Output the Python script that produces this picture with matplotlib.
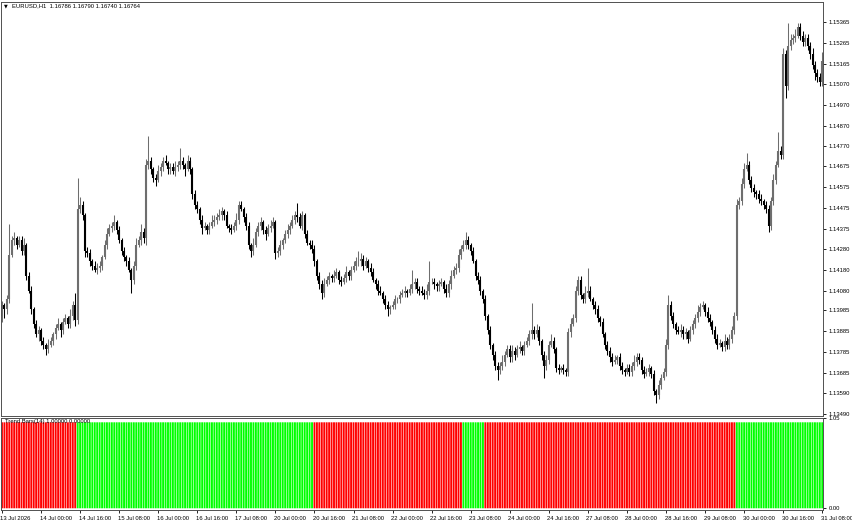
import numpy as np
import matplotlib
matplotlib.use('Agg')
from matplotlib import pyplot as plt
from matplotlib import transforms

# hourly closes, EURUSD H1, 13 Jul 08:00 .. 31 Jul 08:00
closes = [
    1.1401, 1.1399, 1.1404, 1.1425, 1.1432, 1.1433, 1.1430, 1.1432, 1.1427, 1.1430,
    1.1415, 1.1408, 1.1399, 1.1392, 1.1387, 1.1389, 1.1384, 1.1382, 1.1380, 1.1382,
    1.1384, 1.1387, 1.1390, 1.1392, 1.1389, 1.1393, 1.1395, 1.1392, 1.1396, 1.1401,
    1.1394, 1.1447, 1.1449, 1.1444, 1.1427, 1.1426, 1.1422, 1.1420, 1.1418, 1.1419,
    1.1420, 1.1424, 1.1430, 1.1435, 1.1438, 1.1439, 1.1441, 1.1437, 1.1432, 1.1427,
    1.1424, 1.1422, 1.1418, 1.1413, 1.1420, 1.1430, 1.1432, 1.1436, 1.1433, 1.1468,
    1.1470, 1.1466, 1.1462, 1.1461, 1.1465, 1.1467, 1.1470, 1.1469, 1.1466, 1.1467,
    1.1465, 1.1467, 1.1468, 1.1470, 1.1468, 1.1466, 1.1470, 1.1466, 1.1454, 1.1449,
    1.1447, 1.1442, 1.1438, 1.1439, 1.1437, 1.1439, 1.1441, 1.1442, 1.1443, 1.1444,
    1.1446, 1.1444, 1.1439, 1.1438, 1.1437, 1.1439, 1.1442, 1.1449, 1.1447, 1.1443,
    1.1439, 1.1430, 1.1427, 1.1430, 1.1436, 1.1439, 1.1441, 1.1437, 1.1435, 1.1438,
    1.1439, 1.1441, 1.1426, 1.1427, 1.1430, 1.1432, 1.1435, 1.1437, 1.1439, 1.1442,
    1.1444, 1.1443, 1.1439, 1.1444, 1.1435, 1.1431, 1.1430, 1.1428, 1.1422, 1.1415,
    1.1411, 1.1407, 1.1411, 1.1413, 1.1415, 1.1414, 1.1415, 1.1417, 1.1413, 1.1412,
    1.1414, 1.1417, 1.1415, 1.1418, 1.1420, 1.1422, 1.1422, 1.1423, 1.1420, 1.1422,
    1.1419, 1.1417, 1.1413, 1.1411, 1.1408, 1.1407, 1.1404, 1.1401, 1.1399, 1.1400,
    1.1401, 1.1404, 1.1404, 1.1406, 1.1407, 1.1408, 1.1407, 1.1409, 1.1411, 1.1412,
    1.1409, 1.1408, 1.1407, 1.1406, 1.1408, 1.1412, 1.1412, 1.1411, 1.1410, 1.1411,
    1.1412, 1.1409, 1.1407, 1.1411, 1.1415, 1.1418, 1.1419, 1.1425, 1.1428, 1.1430,
    1.1432, 1.1430, 1.1427, 1.1422, 1.1415, 1.1413, 1.1408, 1.1404, 1.1396, 1.1389,
    1.1382, 1.1377, 1.1372, 1.1370, 1.1372, 1.1374, 1.1377, 1.1380, 1.1376, 1.1379,
    1.1377, 1.1380, 1.1381, 1.1379, 1.1382, 1.1384, 1.1387, 1.1389, 1.1387, 1.1389,
    1.1384, 1.1377, 1.1372, 1.1375, 1.1382, 1.1384, 1.1380, 1.1371, 1.1370, 1.1371,
    1.1370, 1.1369, 1.1388, 1.1392, 1.1395, 1.1408, 1.1413, 1.1406, 1.1404, 1.1407,
    1.1408, 1.1404, 1.1401, 1.1399, 1.1395, 1.1393, 1.1387, 1.1382, 1.1379, 1.1376,
    1.1374, 1.1375, 1.1376, 1.1372, 1.1370, 1.1369, 1.1371, 1.1369, 1.1372, 1.1374,
    1.1376, 1.1375, 1.1370, 1.1368, 1.1369, 1.1371, 1.1368, 1.1360, 1.1358, 1.1363,
    1.1366, 1.1369, 1.1382, 1.1401, 1.1396, 1.1392, 1.1389, 1.1388, 1.1389, 1.1387,
    1.1388, 1.1385, 1.1389, 1.1392, 1.1395, 1.1398, 1.1400, 1.1401, 1.1398, 1.1395,
    1.1393, 1.1389, 1.1385, 1.1382, 1.1383, 1.1381, 1.1384, 1.1382, 1.1385, 1.1389,
    1.1396, 1.1449, 1.1451, 1.1459, 1.1466, 1.1468, 1.1461, 1.1457, 1.1455, 1.1454,
    1.1452, 1.1451, 1.1449, 1.1447, 1.1439, 1.1451, 1.1461, 1.1468, 1.1475, 1.1473,
    1.1521, 1.1506, 1.1525, 1.1528, 1.1529, 1.1530, 1.1534, 1.1530, 1.1527, 1.1529,
    1.1525, 1.1521, 1.1516, 1.1512, 1.1510, 1.1508, 1.1518,
]
first_open = 1.1396

# wick lengths above / below the body, in pips
up_wick = [
    2, 1, 2, 15, 2, 3, 1, 2, 2, 3,   1, 2, 2, 1, 2, 2, 1, 2, 1, 3,
    2, 1, 2, 3, 1, 2, 2, 1, 3, 2,    6, 15, 4, 2, 1, 2, 2, 1, 2, 2,
    2, 1, 2, 3, 2, 2, 3, 1, 2, 1,    2, 1, 2, 1, 2, 3, 2, 4, 2, 3,
    12, 2, 1, 2, 3, 2, 2, 3, 1, 2,   2, 3, 2, 6, 2, 1, 3, 2, 1, 2,
    2, 1, 2, 2, 1, 2, 3, 2, 2, 3,    2, 1, 2, 1, 2, 2, 3, 2, 2, 1,
    2, 2, 1, 3, 2, 2, 2, 1, 2, 2,    3, 2, 1, 2, 2, 1, 2, 3, 2, 2,
    2, 6, 2, 2, 1, 2, 1, 2, 2, 1,    2, 2, 3, 2, 2, 1, 3, 2, 1, 2,
    2, 3, 1, 2, 2, 2, 5, 3, 2, 2,    1, 2, 2, 1, 2, 2, 1, 2, 2, 1,
    2, 2, 1, 2, 2, 2, 1, 2, 7, 2,    2, 1, 2, 2, 3, 10, 2, 2, 1, 2,
    2, 1, 2, 2, 3, 2, 2, 3, 2, 2,    4, 2, 1, 2, 1, 2, 2, 1, 2, 1,
    2, 1, 2, 2, 2, 3, 2, 2, 2, 3,    2, 2, 3, 1, 2, 2, 2, 13, 2, 3,
    2, 1, 2, 2, 2, 3, 2, 1, 2, 1,    2, 1, 2, 3, 2, 2, 2, 2, 1, 3,
    11, 2, 1, 2, 2, 1, 2, 1, 2, 2,   2, 2, 1, 2, 2, 1, 2, 2, 2, 3,
    2, 2, 1, 2, 2, 2, 1, 2, 1, 2,    2, 2, 3, 5, 2, 2, 1, 2, 3, 2,
    2, 1, 2, 2, 2, 3, 2, 2, 1, 2,    2, 1, 2, 2, 2, 1, 3, 2, 2, 2,
    2, 3, 2, 3, 3, 6, 2, 2, 2, 1,    2, 2, 1, 2, 2, 2, 3, 2, 9, 2,
    3, 2, 11, 3, 2, 3, 2, 2, 2, 2,   2, 2, 3, 2, 2, 2, 4,
]
down_wick = [
    3, 4, 2, 2, 1, 2, 2, 1, 2, 2,    2, 1, 2, 2, 1, 3, 2, 2, 3, 2,
    1, 2, 2, 1, 3, 2, 1, 2, 2, 2,    3, 2, 2, 2, 3, 2, 2, 2, 1, 2,
    2, 2, 1, 2, 1, 2, 2, 2, 1, 2,    2, 2, 1, 6, 2, 2, 1, 2, 2, 3,
    2, 2, 2, 3, 1, 2, 2, 1, 2, 2,    1, 2, 2, 2, 2, 3, 1, 2, 2, 2,
    2, 2, 3, 1, 2, 2, 1, 2, 2, 1,    2, 2, 1, 2, 2, 1, 2, 2, 1, 2,
    2, 2, 3, 2, 1, 2, 2, 2, 3, 1,    2, 1, 3, 2, 2, 2, 1, 2, 2, 1,
    2, 2, 1, 2, 2, 1, 2, 2, 2, 2,    2, 3, 2, 1, 2, 2, 2, 1, 2, 2,
    1, 2, 2, 2, 1, 2, 2, 2, 2, 1,    2, 2, 1, 2, 2, 1, 2, 2, 3, 2,
    1, 2, 2, 2, 1, 2, 2, 1, 2, 2,    2, 2, 1, 2, 2, 2, 1, 2, 2, 2,
    1, 2, 2, 2, 2, 1, 2, 2, 2, 1,    2, 2, 2, 1, 2, 2, 2, 2, 2, 2,
    2, 2, 2, 5, 2, 2, 2, 1, 2, 2,    2, 1, 2, 2, 2, 1, 2, 2, 2, 1,
    2, 2, 6, 2, 2, 1, 2, 2, 2, 1,    2, 2, 2, 2, 1, 2, 2, 2, 2, 2,
    2, 1, 2, 2, 2, 2, 1, 2, 2, 2,    2, 1, 2, 2, 2, 2, 1, 2, 2, 2,
    2, 2, 2, 2, 1, 2, 2, 2, 4, 2,    2, 1, 2, 2, 2, 2, 2, 1, 2, 2,
    2, 2, 1, 2, 2, 2, 2, 1, 2, 2,    2, 2, 2, 2, 1, 2, 2, 2, 2, 2,
    2, 2, 2, 2, 2, 1, 2, 2, 2, 2,    2, 2, 2, 2, 3, 2, 2, 2, 1, 2,
    2, 6, 2, 2, 2, 2, 1, 2, 2, 2,    2, 2, 2, 3, 2, 2, 2,
]

# Trend Bars indicator: runs of (direction, number of bars)
trend_runs = [('down', 31), ('up', 97), ('down', 61), ('up', 9), ('down', 103), ('up', 36)]

time_labels = ['13 Jul 2026', '14 Jul 00:00', '14 Jul 16:00', '15 Jul 08:00', '16 Jul 00:00',
               '16 Jul 16:00', '17 Jul 08:00', '20 Jul 00:00', '20 Jul 16:00', '21 Jul 08:00',
               '22 Jul 00:00', '22 Jul 16:00', '23 Jul 08:00', '24 Jul 00:00', '24 Jul 16:00',
               '27 Jul 08:00', '28 Jul 00:00', '28 Jul 16:00', '29 Jul 08:00', '30 Jul 00:00',
               '30 Jul 16:00', '31 Jul 08:00']
label_step = 16  # bars between time labels

price_ticks = [1.15365, 1.15265, 1.15165, 1.15070, 1.14970, 1.14870, 1.14770, 1.14675,
               1.14575, 1.14475, 1.14375, 1.14280, 1.14180, 1.14080, 1.13985, 1.13885,
               1.13785, 1.13685, 1.13590, 1.13490]

header = 'EURUSD,H1  1.16786 1.16790 1.16740 1.16764'
ind_header = 'Trend Bars(14) 1.00000 0.00000'

plt.rcParams['font.family'] = ['Liberation Sans', 'DejaVu Sans']
FS = 4.2

PIP = 0.0001
closes = np.array(closes)
opens = np.concatenate([[first_open], closes[:-1]])
highs = np.maximum(opens, closes) + np.array(up_wick) * PIP
lows = np.minimum(opens, closes) - np.array(down_wick) * PIP
idx = np.arange(len(closes))
bar_colors = np.where(closes >= opens, '#6e6e6e', '#000000')

trend = []
for direction, count in trend_runs:
    trend += [direction] * count
trend_colors = ['#00FF00' if t == 'up' else '#FF0000' for t in trend]

W, H = 852, 528
fig = plt.figure(figsize=(W / 100, H / 100), dpi=100)
fig.patch.set_facecolor('white')

ax = fig.add_axes([1 / W, 1 - 416 / H, 822 / W, 414 / H])
ax_ind = fig.add_axes([1 / W, 1 - 510 / H, 822 / W, 92 / H], sharex=ax)

# candles
ax.vlines(idx, lows, highs, colors=bar_colors, linewidth=0.75)
ax.vlines(idx, np.minimum(opens, closes), np.maximum(opens, closes), colors=bar_colors, linewidth=1.5)

ax.set_xlim(-0.4, 336.3)
ax.set_ylim(1.13480, 1.15461)
ax.yaxis.tick_right()
ax.set_yticks(price_ticks)
ax.set_yticklabels(['%.5f' % p for p in price_ticks])
ax.tick_params(axis='y', length=2.5, width=0.6, pad=1.5, colors='#000000', labelsize=FS)
ax.tick_params(axis='x', bottom=False, labelbottom=False)

# indicator
ax_ind.bar(idx, [1.0] * len(idx), width=0.78, color=trend_colors, linewidth=0, snap=False)
ax_ind.set_ylim(-0.02, 1.05)
ax_ind.yaxis.tick_right()
ax_ind.set_yticks([1.05, 0.0])
ax_ind.set_yticklabels(['1.05', '0.00'])
ax_ind.tick_params(axis='y', length=2.5, width=0.6, pad=1.5, labelsize=FS)

ticks_x = [i * label_step for i in range(len(time_labels))]
ax_ind.set_xticks(ticks_x)
ax_ind.set_xticklabels(time_labels, ha='left')
ax_ind.tick_params(axis='x', length=2.5, width=0.6, pad=1.5, labelsize=FS)
shift = transforms.ScaledTranslation(-1.5 / 100, 0, fig.dpi_scale_trans)
for lbl in ax_ind.get_xticklabels():
    lbl.set_transform(lbl.get_transform() + shift)

for a in (ax, ax_ind):
    a.set_facecolor('white')
    for s in a.spines.values():
        s.set_color('#505050')
        s.set_linewidth(0.7)

fig.text(4 / W, 1 - 6 / H, '\u25bc', fontsize=3.5, family='DejaVu Sans', va='center', ha='left')
fig.text(12 / W, 1 - 6 / H, header, fontsize=FS, va='center', ha='left')
ax_ind.text(4 / 822, 0.99, ind_header, transform=ax_ind.transAxes, fontsize=FS,
            va='top', ha='left', color='#000000')

fig.savefig('out.png', dpi=100)
plt.close('all')
